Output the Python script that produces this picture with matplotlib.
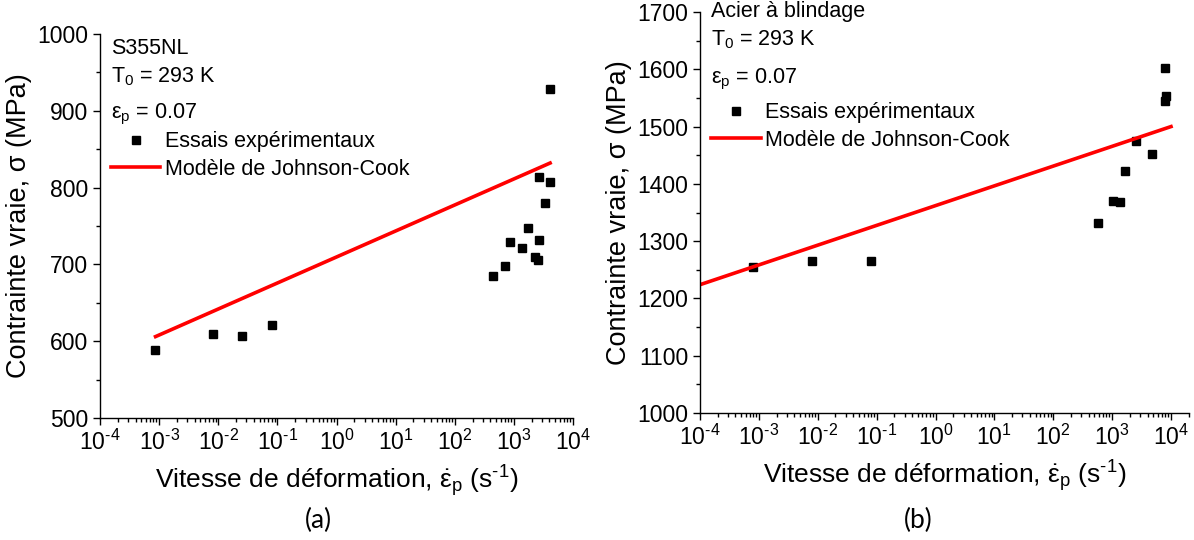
import numpy as np
import matplotlib
matplotlib.use('Agg')
import matplotlib.pyplot as plt

plt.rcParams['font.family'] = ['Liberation Sans', 'DejaVu Sans']
plt.rcParams['mathtext.fontset'] = 'custom'
plt.rcParams['mathtext.rm'] = 'Liberation Sans'
plt.rcParams['mathtext.it'] = 'Liberation Sans'
plt.rcParams['mathtext.default'] = 'regular'

# (a) S355NL
rate_a = [8.5e-4, 8.3e-3, 0.025, 0.082, 440, 705, 850, 1365, 1720, 2290, 2510, 2620, 2620, 3300, 4100, 4100]
stress_a = [589, 610, 607, 621, 685, 698, 729, 722, 748, 710, 706, 732, 814, 780, 807, 928]
jc_rate_a = [8.7e-4, 4100]
jc_stress_a = [606, 832]

# (b) acier a blindage
rate_b = [7.8e-4, 8.1e-3, 0.081, 575, 1045, 1380, 1625, 2520, 4750, 7900, 8200, 7900]
stress_b = [1254, 1266, 1266, 1331, 1370, 1368, 1423, 1474, 1452, 1544, 1554, 1603]
jc_rate_b = [1e-4, 1e4]
jc_stress_b = [1224, 1500]

HY = '\u2010'  # hyphen instead of minus, like the original


def pow10(v, pos):
    e = int(round(np.log10(v)))
    return r'$10^{%s}$' % str(e).replace('-', HY)


fig = plt.figure(figsize=(11.94, 5.4), dpi=100)
ax1 = fig.add_axes([100/1194, 1-418/540, 473/1194, 384/540])
ax2 = fig.add_axes([700/1194, 1-413/540, 489/1194, 401/540])


def style(ax, xlim, ylim):
    ax.set_xscale('log')
    ax.set_xlim(*xlim)
    ax.set_ylim(*ylim)
    ax.spines['top'].set_visible(False)
    ax.spines['right'].set_visible(False)
    for s in ['left', 'bottom']:
        ax.spines[s].set_linewidth(1.0)
    ax.xaxis.set_major_locator(matplotlib.ticker.LogLocator(base=10, numticks=20))
    ax.xaxis.set_major_formatter(matplotlib.ticker.FuncFormatter(pow10))
    ax.xaxis.set_minor_locator(matplotlib.ticker.LogLocator(base=10, subs=np.arange(2, 10), numticks=20))
    ax.xaxis.set_minor_formatter(matplotlib.ticker.NullFormatter())
    ax.yaxis.set_major_locator(matplotlib.ticker.MultipleLocator(100))
    ax.yaxis.set_minor_locator(matplotlib.ticker.MultipleLocator(50))
    ax.tick_params(which='major', length=5, width=1.0, labelsize=16.5, direction='out')
    ax.tick_params(which='minor', length=3, width=1.0, direction='out')
    ax.set_xlabel(r'Vitesse de déformation, $\dot{\varepsilon}_\mathrm{p}$ (s$^{%s1}$)' % HY, fontsize=19, labelpad=6)
    ax.set_ylabel('Contrainte vraie, σ (MPa)', fontsize=19.5, labelpad=4)


style(ax1, (1e-4, 1e4), (500, 1000))
style(ax2, (1e-4, 2.02e4), (1000, 1700))

ax1.plot(rate_a, stress_a, 's', color='black', ms=6, label='Essais expérimentaux', clip_on=False)
ax1.plot(jc_rate_a, jc_stress_a, '-', color='#ff0000', lw=2.6, label='Modèle de Johnson-Cook')
ax2.plot(rate_b, stress_b, 's', color='black', ms=6, label='Essais expérimentaux', clip_on=False)
ax2.plot(jc_rate_b, jc_stress_b, '-', color='#ff0000', lw=2.6, label='Modèle de Johnson-Cook')

fs = 15.5
ax1.text(0.023, 0.9635, 'S355NL', transform=ax1.transAxes, fontsize=fs, va='center')
ax1.text(0.023, 0.89, r'T$_0$ = 293 K', transform=ax1.transAxes, fontsize=fs, va='center')
ax1.text(0.023, 0.79, r'$\varepsilon_\mathrm{p}$ = 0.07', transform=ax1.transAxes, fontsize=fs, va='center')

ax2.text(0.0225, 1.001, 'Acier à blindage', transform=ax2.transAxes, fontsize=fs, va='center')
ax2.text(0.0225, 0.93, r'T$_0$ = 293 K', transform=ax2.transAxes, fontsize=fs, va='center')
ax2.text(0.0225, 0.833, r'$\varepsilon_\mathrm{p}$ = 0.07', transform=ax2.transAxes, fontsize=fs, va='center')

for ax, anchor in [(ax1, (0.023, 0.747)), (ax2, (0.0225, 0.775))]:
    ax.legend(loc='upper left', bbox_to_anchor=anchor, frameon=False, fontsize=fs,
              handlelength=2.3, handletextpad=0.2, labelspacing=0.3, borderpad=0, borderaxespad=0)

fig.text(318/1194, 1-520/540, '(a)', fontsize=19, family='Lato', ha='center', va='center')
fig.text(918/1194, 1-520/540, '(b)', fontsize=19, family='Lato', ha='center', va='center')

fig.savefig('out.png', dpi=100)
